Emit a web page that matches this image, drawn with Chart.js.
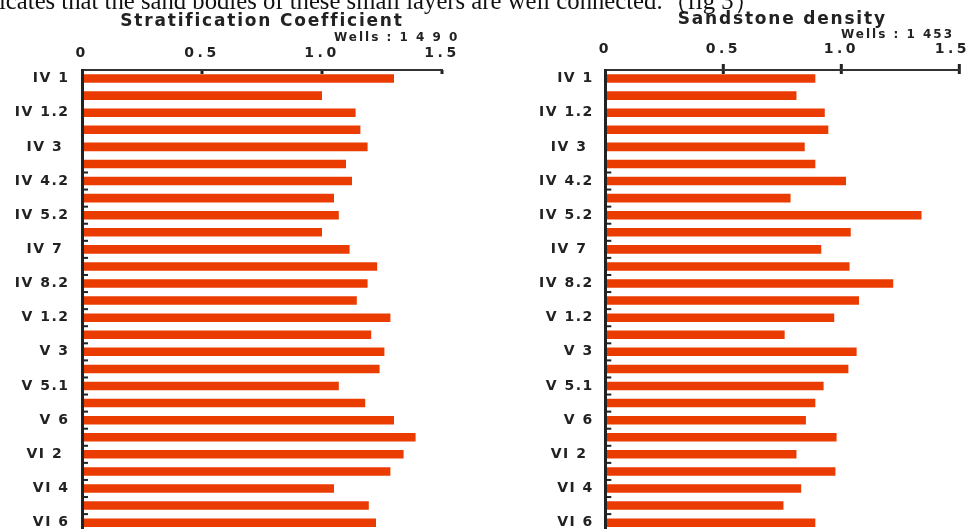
<!DOCTYPE html>
<html>
<head>
<meta charset="utf-8">
<script src="https://cdn.jsdelivr.net/npm/chart.js@4/dist/chart.umd.min.js"></script>
<style>
  html, body { margin: 0; padding: 0; background: #fff; overflow: hidden; }
  #wrap { position: relative; width: 974px; height: 529px; overflow: hidden; }
  canvas { position: absolute; top: 0; }
  #c1 { left: 0; }
  #c2 { left: 487px; }
  .caption { position: absolute; left: -1px; top: -11px; font: 24.7px "Liberation Serif", "DejaVu Serif", serif; line-height: 24px; white-space: nowrap; color: #111; }
  .wells { position: absolute; font: bold 12px "DejaVu Sans", sans-serif; line-height: 14px; letter-spacing: 2px; white-space: nowrap; color: #222; }
</style>
</head>
<body>
<div id="wrap">
  <canvas id="c1" width="487" height="540"></canvas>
  <canvas id="c2" width="487" height="540"></canvas>
  <div class="caption">icates that the sand bodies of these small layers are well connected.（fig 3）</div>
  <div class="wells" style="left:334px; top:30px;">Wells : 1 4 9 0</div>
  <div class="wells" style="left:841px; top:27px;">Wells : 1 453</div>
</div>
<script>
// ---- data ----
const layerLabels = ["IV 1","","IV 1.2","","IV 3 ","","IV 4.2","","IV 5.2","","IV 7 ","","IV 8.2","",
  "V 1.2","","V 3","","V 5.1","","V 6","","VI 2 ","","VI 4","","VI 6"];
const stratCoef = [1.30,1.00,1.14,1.16,1.19,1.10,1.125,1.05,1.07,1.00,1.115,1.23,1.19,1.145,
  1.285,1.205,1.26,1.24,1.07,1.18,1.30,1.39,1.34,1.285,1.05,1.195,1.225];
const sandDensity = [0.89,0.81,0.93,0.945,0.845,0.89,1.02,0.785,1.34,1.04,0.915,1.035,1.22,1.075,
  0.97,0.76,1.065,1.03,0.925,0.89,0.85,0.98,0.81,0.975,0.83,0.755,0.89];
const xTickValues = [0, 0.5, 1, 1.5];
const titleLeft = "Stratification Coefficient";
const titleRight = "Sandstone density";

const BAR_COLOR = '#EA3C00';
const FONT = '"DejaVu Sans", "Verdana", sans-serif';
const FIRST_MINOR_TICK = 5;
const TITLE_SIZE = 17;

const spacingPlugin = {
  id: 'spacing',
  beforeDraw(chart, args, opts) {
    const ctx = chart.ctx;
    ['x', 'y'].forEach(k => {
      const s = chart.scales[k];
      if (s && !s._patched) {
        const orig = s.drawLabels;
        const sp = k === 'x' ? opts.x : opts.y;
        s.drawLabels = function (area) {
          const c = this.ctx;
          c.save();
          try { c.letterSpacing = sp; } catch (e) {}
          if (k === 'x') {
            const items = this.getLabelItems(area);
            const last = items[items.length - 1];
            if (last && !last._clamped) {
              c.save();
              c.font = last.font.string;
              const w = c.measureText(String(last.label)).width;
              c.restore();
              const tr = last.options.translation;
              const limit = this.chart.width - opts.edge;
              if (tr[0] + w / 2 > limit) {
                last.options.textAlign = 'right';
                tr[0] = limit;
              }
              last._clamped = true;
            }
          }
          orig.call(this, area);
          c.restore();
        };
        s._patched = true;
      }
    });
    try { ctx.letterSpacing = opts.title; } catch (e) {}
  },
  afterDraw(chart) {
    try { chart.ctx.letterSpacing = '0px'; } catch (e) {}
  }
};

const marksPlugin = {
  id: 'marks',
  afterDatasetsDraw(chart, args, opts) {
    const ctx = chart.ctx;
    const xs = chart.scales.x, ys = chart.scales.y;
    const top = chart.chartArea.top, left = chart.chartArea.left;
    ctx.save();
    ctx.fillStyle = '#222';
    xTickValues.forEach(v => {
      if (v === 0) return;
      const px = xs.getPixelForValue(v);
      ctx.fillRect(px - 1.5, top - opts.up, 3, opts.up + opts.down);
    });
    const n = layerLabels.length;
    for (let i = FIRST_MINOR_TICK; i < n - 1; i++) {
      const py = (ys.getPixelForValue(i) + ys.getPixelForValue(i + 1)) / 2;
      ctx.fillRect(left, py - 1, 6, 2);
    }
    ctx.restore();
  }
};

function makeChart(id, values, title, cfg) {
  const titleH = cfg.titlePadTop + TITLE_SIZE * 1.2;
  return new Chart(document.getElementById(id), {
    type: 'bar',
    data: {
      labels: layerLabels,
      datasets: [{ data: values, backgroundColor: BAR_COLOR, borderWidth: 0,
        categoryPercentage: 1.0, barPercentage: 0.5 }]
    },
    options: {
      indexAxis: 'y',
      responsive: false,
      maintainAspectRatio: false,
      animation: false,
      events: [],
      layout: { padding: { left: 0, right: cfg.padRight, top: 0, bottom: 540 - 531.2 } },
      plugins: {
        legend: { display: false },
        tooltip: { enabled: false },
        title: { display: true, text: title, fullSize: false, color: '#222',
          font: { family: FONT, size: TITLE_SIZE, weight: 'bold', lineHeight: 1.2 },
          padding: { top: cfg.titlePadTop, bottom: 0 } },
        spacing: { title: '1.8px', x: '3.5px', y: '1.5px', edge: 4 },
        marks: { up: cfg.tickUp, down: cfg.tickDown }
      },
      scales: {
        x: {
          position: 'top', min: 0, max: 1.5,
          afterBuildTicks: (s) => { s.ticks = xTickValues.map(v => ({ value: v })); },
          afterFit: (s) => { s.height = 70 - titleH; s.paddingLeft = 0; s.paddingRight = 0; },
          grid: { display: false, drawTicks: false },
          border: { display: true, color: '#333', width: 2, z: 1 },
          ticks: { padding: cfg.xTickPad, color: '#222', maxRotation: 0, autoSkip: false,
            font: { family: FONT, size: 14, weight: 'bold', lineHeight: 1.2 } }
        },
        y: {
          afterFit: (s) => { s.width = cfg.chartLeft; s.paddingTop = 0; s.paddingBottom = 0; },
          grid: { display: false, drawTicks: false },
          border: { display: true, color: '#222', width: 3, z: 1 },
          ticks: { padding: cfg.yTickPad, color: '#222', autoSkip: false,
            font: { family: FONT, size: 14, weight: 'bold' } }
        }
      }
    },
    plugins: [spacingPlugin, marksPlugin]
  });
}

makeChart('c1', stratCoef, titleLeft,
  { chartLeft: 82, padRight: 45, titlePadTop: 11.3, xTickPad: 8.3, yTickPad: 12.5, tickUp: 0, tickDown: 4 });
makeChart('c2', sandDensity, titleRight,
  { chartLeft: 118.3, padRight: 14.7, titlePadTop: 9.3, xTickPad: 12, yTickPad: 11.5, tickUp: 6, tickDown: 4 });
</script>
</body>
</html>
